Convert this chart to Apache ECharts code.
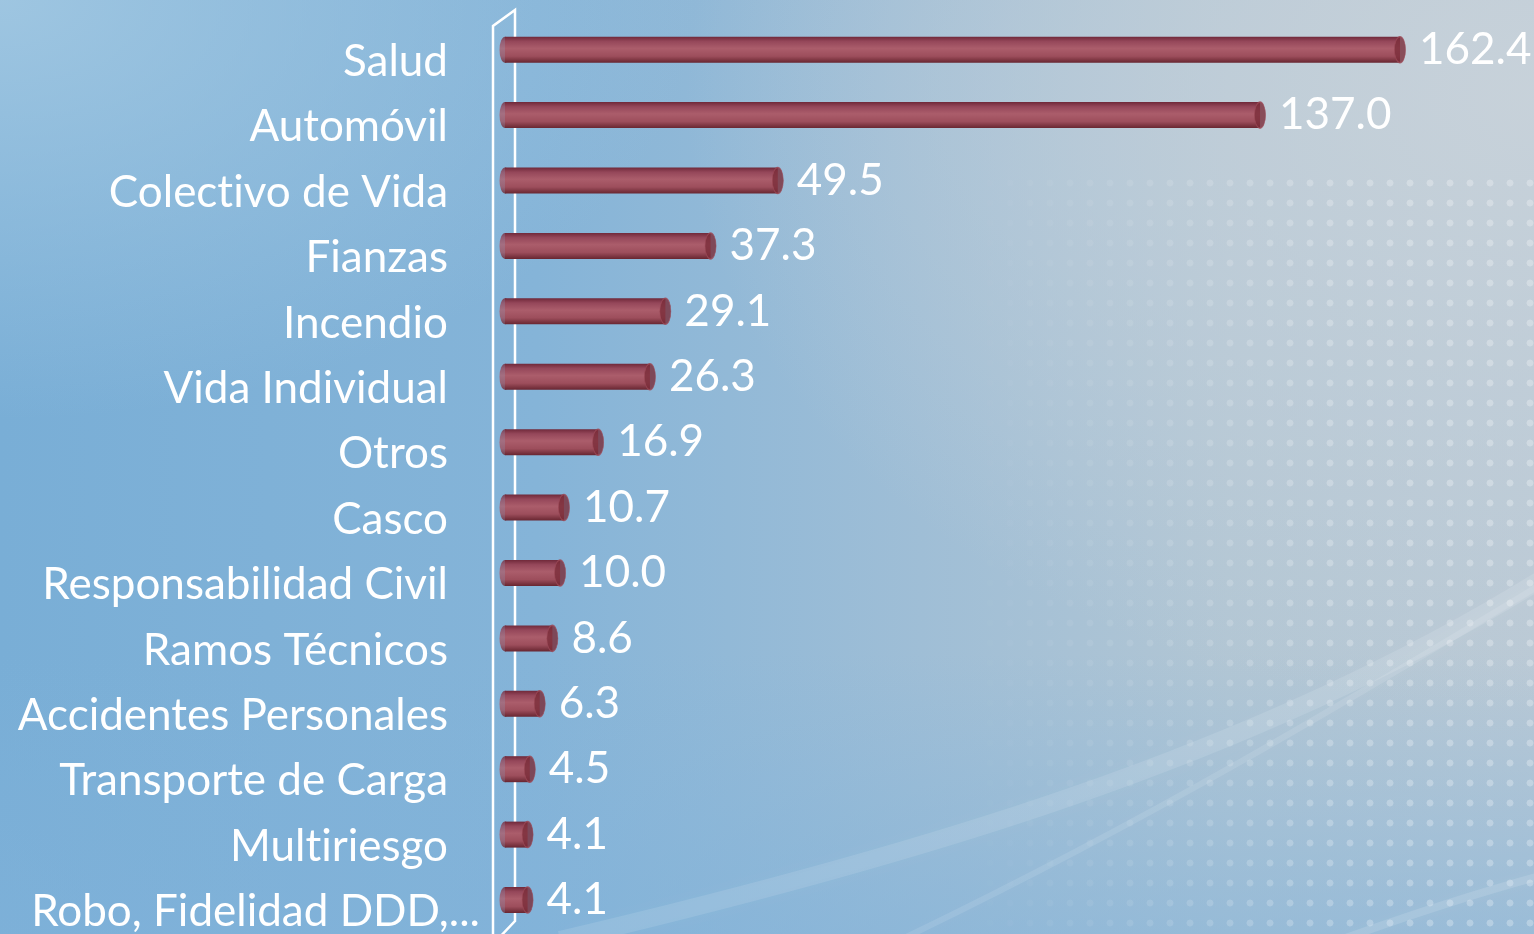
<!DOCTYPE html>
<html>
<head>
<meta charset="utf-8">
<script src="https://cdn.jsdelivr.net/npm/echarts@6/dist/echarts.min.js"></script>
<style>
  html, body {
    margin: 0;
    padding: 0;
    width: 1534px;
    height: 934px;
    overflow: hidden;
  }
  body {
    position: relative;
    background:
      radial-gradient(ellipse 700px 420px at 0% 0%, rgba(162, 200, 226, 0.9) 0%, rgba(162, 200, 226, 0) 100%),
      radial-gradient(ellipse 850px 620px at 100% 10%, rgba(200, 210, 218, 0.95) 0%, rgba(196, 208, 218, 0.55) 50%, rgba(190, 206, 220, 0) 100%),
      linear-gradient(to top, rgba(128, 178, 218, 0.55) 0%, rgba(128, 178, 218, 0) 30%),
      linear-gradient(to right, #79aed6 0%, #85b4d8 35%, #9fbed6 60%, #b2c6d4 80%, #bac9d5 100%);
  }
  #dots {
    position: absolute;
    left: 960px;
    top: 173px;
    width: 580px;
    height: 770px;
    background-image: radial-gradient(circle, rgba(255, 255, 255, 0.27) 3.2px, rgba(255, 255, 255, 0) 3.8px);
    background-size: 20px 20px;
    -webkit-mask-image: linear-gradient(to right, rgba(0,0,0,0) 0%, rgba(0,0,0,0.35) 30%, rgba(0,0,0,0.85) 60%, #000 80%);
    mask-image: linear-gradient(to right, rgba(0,0,0,0) 0%, rgba(0,0,0,0.35) 30%, rgba(0,0,0,0.85) 60%, #000 80%);
  }
  #main {
    position: absolute;
    left: 0;
    top: 0;
    width: 1534px;
    height: 934px;
  }
</style>
</head>
<body>
<div id="dots"></div>
<div id="main"></div>
<script>
// ramos de seguros, de mayor a menor
var categories = [
  "Salud",
  "Automóvil",
  "Colectivo de Vida",
  "Fianzas",
  "Incendio",
  "Vida Individual",
  "Otros",
  "Casco",
  "Responsabilidad Civil",
  "Ramos Técnicos",
  "Accidentes Personales",
  "Transporte de Carga",
  "Multiriesgo",
  "Robo, Fidelidad DDD,..."
];
var values = [162.4, 137.0, 49.5, 37.3, 29.1, 26.3, 16.9, 10.7, 10.0, 8.6, 6.3, 4.5, 4.1, 4.1];

var gridLeft = 505;
var gridTop = 17;
var gridHeight = 916;
var labelFont = "Lato";
var labelSize = 44;

var myChart = echarts.init(document.getElementById("main"));

// evita la ligadura "ti" de Lato
function noLig(s) {
  return s.replace(/ti/g, "t\u200Ci").replace(/fi/g, "f\u200Ci");
}

// el ultimo rotulo sobresale un poco hacia la derecha, como en el original
var ctx = document.createElement("canvas").getContext("2d");
ctx.font = labelSize + "px " + labelFont;
var roboWidth = ctx.measureText(noLig(categories[categories.length - 1])).width;

var barColor = new echarts.graphic.LinearGradient(0, 0, 0, 1, [
  { offset: 0, color: "#70293a" },
  { offset: 0.18, color: "#95475a" },
  { offset: 0.45, color: "#ab5d6b" },
  { offset: 0.75, color: "#9d4e5c" },
  { offset: 1, color: "#682631" }
]);

var capData = values.map(function (v, i) {
  return [v, i];
});
var startData = values.map(function (v, i) {
  return [0, i];
});

var option = {
  backgroundColor: "transparent",
  animation: false,
  grid: {
    left: gridLeft,
    top: gridTop,
    height: gridHeight,
    right: 37
  },
  xAxis: {
    type: "value",
    min: 0,
    max: 180,
    show: false
  },
  yAxis: {
    type: "category",
    inverse: true,
    data: categories,
    axisLine: { show: false },
    axisTick: { show: false },
    splitLine: { show: false },
    axisLabel: {
      margin: 57,
      color: "#ffffff",
      fontFamily: labelFont,
      fontSize: labelSize,
      padding: [24, 0, 0, 0],
      formatter: function (value, idx) {
        if (idx === categories.length - 1) {
          return "{robo|" + noLig(value) + "}";
        }
        return noLig(value);
      },
      rich: {
        robo: {
          color: "#ffffff",
          fontFamily: labelFont,
          fontSize: labelSize,
          width: roboWidth - 32,
          align: "left"
        }
      }
    }
  },
  series: [
    {
      // extremo izquierdo redondeado del cilindro
      type: "scatter",
      data: startData,
      symbol: "circle",
      symbolSize: [11, 26],
      silent: true,
      z: 1,
      itemStyle: { color: barColor }
    },
    {
      type: "bar",
      data: values,
      barWidth: 26,
      z: 2,
      itemStyle: { color: barColor },
      label: {
        show: true,
        position: "right",
        distance: 19,
        color: "#ffffff",
        fontFamily: labelFont,
        fontSize: labelSize,
        padding: [16, 0, 0, 0],
        formatter: function (p) {
          return p.value.toFixed(1);
        }
      }
    },
    {
      // tapa del cilindro
      type: "scatter",
      data: capData,
      symbol: "circle",
      symbolSize: [11, 26],
      silent: true,
      z: 3,
      itemStyle: {
        color: "#7a2d3a",
        borderColor: "#9c4a58",
        borderWidth: 1
      }
    }
  ],
  graphic: [
    {
      // pared del eje en perspectiva
      type: "polyline",
      silent: true,
      z: 0,
      shape: {
        points: [
          [gridLeft - 12, 940],
          [gridLeft - 12, 26],
          [gridLeft + 10, 10],
          [gridLeft + 10, 921],
          [gridLeft - 8, 940]
        ]
      },
      style: { stroke: "#ffffff", lineWidth: 2.5, fill: null }
    },
    {
      // destellos claros del fondo
      type: "bezierCurve",
      silent: true,
      z: -1,
      shape: { x1: 560, y1: 940, cpx1: 900, cpy1: 860, cpx2: 1250, cpy2: 760, x2: 1540, y2: 580 },
      style: { stroke: "rgba(255,255,255,0.11)", lineWidth: 18, shadowBlur: 28, shadowColor: "rgba(255,255,255,0.4)", fill: null }
    },
    {
      type: "bezierCurve",
      silent: true,
      z: -1,
      shape: { x1: 900, y1: 940, cpx1: 1150, cpy1: 820, cpx2: 1350, cpy2: 700, x2: 1540, y2: 585 },
      style: { stroke: "rgba(255,255,255,0.1)", lineWidth: 6, shadowBlur: 16, shadowColor: "rgba(255,255,255,0.5)", fill: null }
    },
    {
      type: "bezierCurve",
      silent: true,
      z: -1,
      shape: { x1: 1340, y1: 940, cpx1: 1410, cpy1: 915, cpx2: 1470, cpy2: 895, x2: 1540, y2: 876 },
      style: { stroke: "rgba(255,255,255,0.12)", lineWidth: 8, shadowBlur: 16, shadowColor: "rgba(255,255,255,0.45)", fill: null }
    }
  ]
};

myChart.setOption(option);
</script>
</body>
</html>
